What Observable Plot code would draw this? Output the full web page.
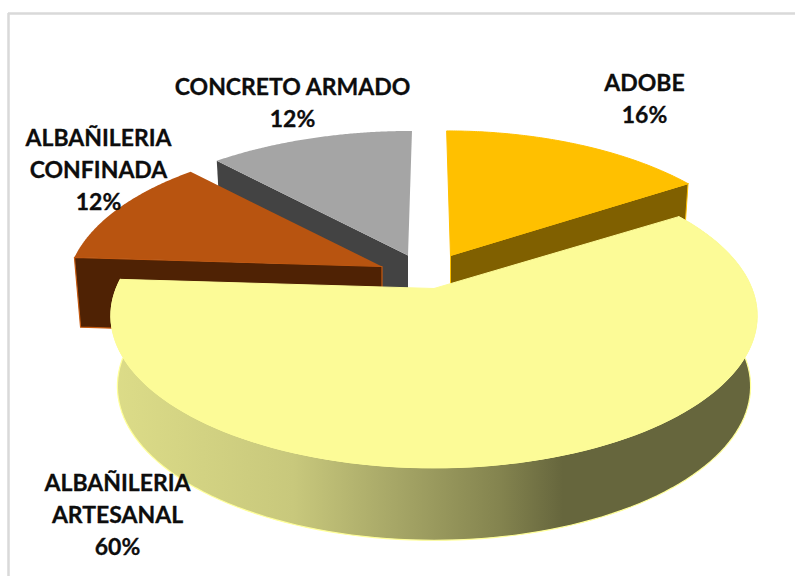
<!DOCTYPE html>
<html>
<head>
<meta charset="utf-8">
<script src="https://cdn.jsdelivr.net/npm/d3@7"></script>
<script src="https://cdn.jsdelivr.net/npm/@observablehq/plot@0.6"></script>
<style>html,body{margin:0;padding:0;background:#fff}svg{display:block}</style>
</head>
<body>
<script>
const categories = ["ADOBE", "ALBAÑILERIA ARTESANAL", "ALBAÑILERIA CONFINADA", "CONCRETO ARMADO"];
const shares = [16, 60, 12, 12];
const labels = ["ADOBE\n16%", "ALBAÑILERIA\nARTESANAL\n60%", "ALBAÑILERIA\nCONFINADA\n12%", "CONCRETO ARMADO\n12%"];
const faceColors = ["#ffc000", "#fcfb97", "#b85410", "#a5a5a5"];
const wallColors = ["#806000", "url(#wall)", "#4f2204", "#434343"];
const edgeColors = ["#ffc000", "#ffff99", "#c55a11", "none"];

// layout of the 3D view, in pixels of the 795x576 picture
const W = 795, H = 576, R = 321, cx = 435, cy = 288;
const ux = (p) => (p - cx) / R, uy = (p) => (p - cy) / R;
const slope = 147 / 321, persp = 0.18, depth = 70 / 321, shrink = 0.98;
const apexes = [[450, 255], [433.5, 288], [381.5, 266], [407.5, 255]];
const scales = [0.97, 0.99, 0.97, 1];
const leans = [4.7 / 321, 0, 4.7 / 321, -4.7 / 321];
const labelAt = [[644, 96], [117, 512.5], [98, 167], [292, 100]];

const cumulative = d3.cumsum(shares);
const total = d3.sum(shares);
const spans = shares.map((s, i) => [(cumulative[i] - s) / total * 2 * Math.PI, cumulative[i] / total * 2 * Math.PI]);

// A point of the top face, at fraction r of the radius and angle t clockwise from 12 o'clock
function topPoint(i, t, r = 1) {
  const X = Math.sin(t) * r, Z = -Math.cos(t) * r, d = 1 - persp * Z;
  return [ux(apexes[i][0]) + scales[i] * (X + leans[i] * Z) / d, uy(apexes[i][1]) + slope * Z / d];
}
function bottomPoint(i, t, r = 1) {
  const [x, y] = topPoint(i, t, r), ax = ux(apexes[i][0]), ay = uy(apexes[i][1]);
  const Z = -Math.cos(t) * r;
  return [ax + (x - ax) * shrink, ay + (y - ay) * shrink + depth / (1 - 0.08 * Z)];
}
const arcPoints = (i, f) => d3.range(0, 121).map((k) => f(i, spans[i][0] + (spans[i][1] - spans[i][0]) * k / 120));
const closeRing = (pts) => [...pts, pts[0]];
const face = (i) => closeRing([topPoint(i, 0, 0), ...arcPoints(i, topPoint)]);
const outerWall = (i) => closeRing([...arcPoints(i, topPoint), ...arcPoints(i, bottomPoint).reverse()]);
const cutWall = (i, t) => closeRing([topPoint(i, t), topPoint(i, 0, 0), bottomPoint(i, 0, 0), bottomPoint(i, t)]);

const poly = (pts, fill, stroke = "none", strokeWidth = 1) =>
  Plot.line(pts, {x: (d) => d[0], y: (d) => d[1], fill, stroke, strokeWidth, curve: "linear-closed"});

const marks = [
  // chart frame
  Plot.ruleX([ux(8)], {y1: uy(13), y2: uy(576), stroke: "#d9d9d9", strokeWidth: 2.5}),
  Plot.ruleY([uy(13)], {x1: ux(8), x2: ux(795), stroke: "#d9d9d9", strokeWidth: 2.5}),
  // concreto armado
  poly(cutWall(3, spans[3][0]), wallColors[3]),
  poly(face(3), faceColors[3]),
  // adobe
  poly(cutWall(0, spans[0][1]), wallColors[0], edgeColors[0]),
  poly(face(0), faceColors[0], edgeColors[0]),
  // albañileria confinada
  poly(cutWall(2, spans[2][0]), wallColors[2], edgeColors[2], 1.2),
  poly(face(2), faceColors[2]),
  // albañileria artesanal
  poly(outerWall(1), wallColors[1], edgeColors[1], 1.2),
  poly(face(1), faceColors[1], faceColors[1]),
  // data labels
  Plot.text(labels, {
    x: (d, i) => ux(labelAt[i][0]),
    y: (d, i) => uy(labelAt[i][1]),
    text: (d) => d,
    fontFamily: "Lato",
    fontWeight: 700,
    fontSize: 23,
    lineHeight: 1.39,
    fill: "#0d0d0d",
    stroke: "#0d0d0d",
    strokeWidth: 0.3,
    textAnchor: "middle"
  })
];

const chart = Plot.plot({
  width: W, height: H, margin: 0,
  style: {background: "#fff"},
  x: {type: "linear", domain: [ux(0), ux(W)], range: [0, W], axis: null},
  y: {type: "linear", domain: [uy(0), uy(H)], range: [0, H], axis: null},
  marks
});

// shading of the outer wall
const defs = d3.create("svg:defs");
const grad = defs.append("linearGradient").attr("id", "wall").attr("gradientUnits", "userSpaceOnUse")
  .attr("x1", 113).attr("x2", 755).attr("y1", 0).attr("y2", 0);
[[0, "#dcdc88"], [0.28, "#c8c87c"], [0.45, "#a4a465"], [0.6, "#84844f"], [0.7, "#66663d"], [1, "#66663d"]]
  .forEach(([o, c]) => grad.append("stop").attr("offset", o).attr("stop-color", c));
chart.insertBefore(defs.node(), chart.firstChild);
document.body.appendChild(chart);
</script>
</body>
</html>
